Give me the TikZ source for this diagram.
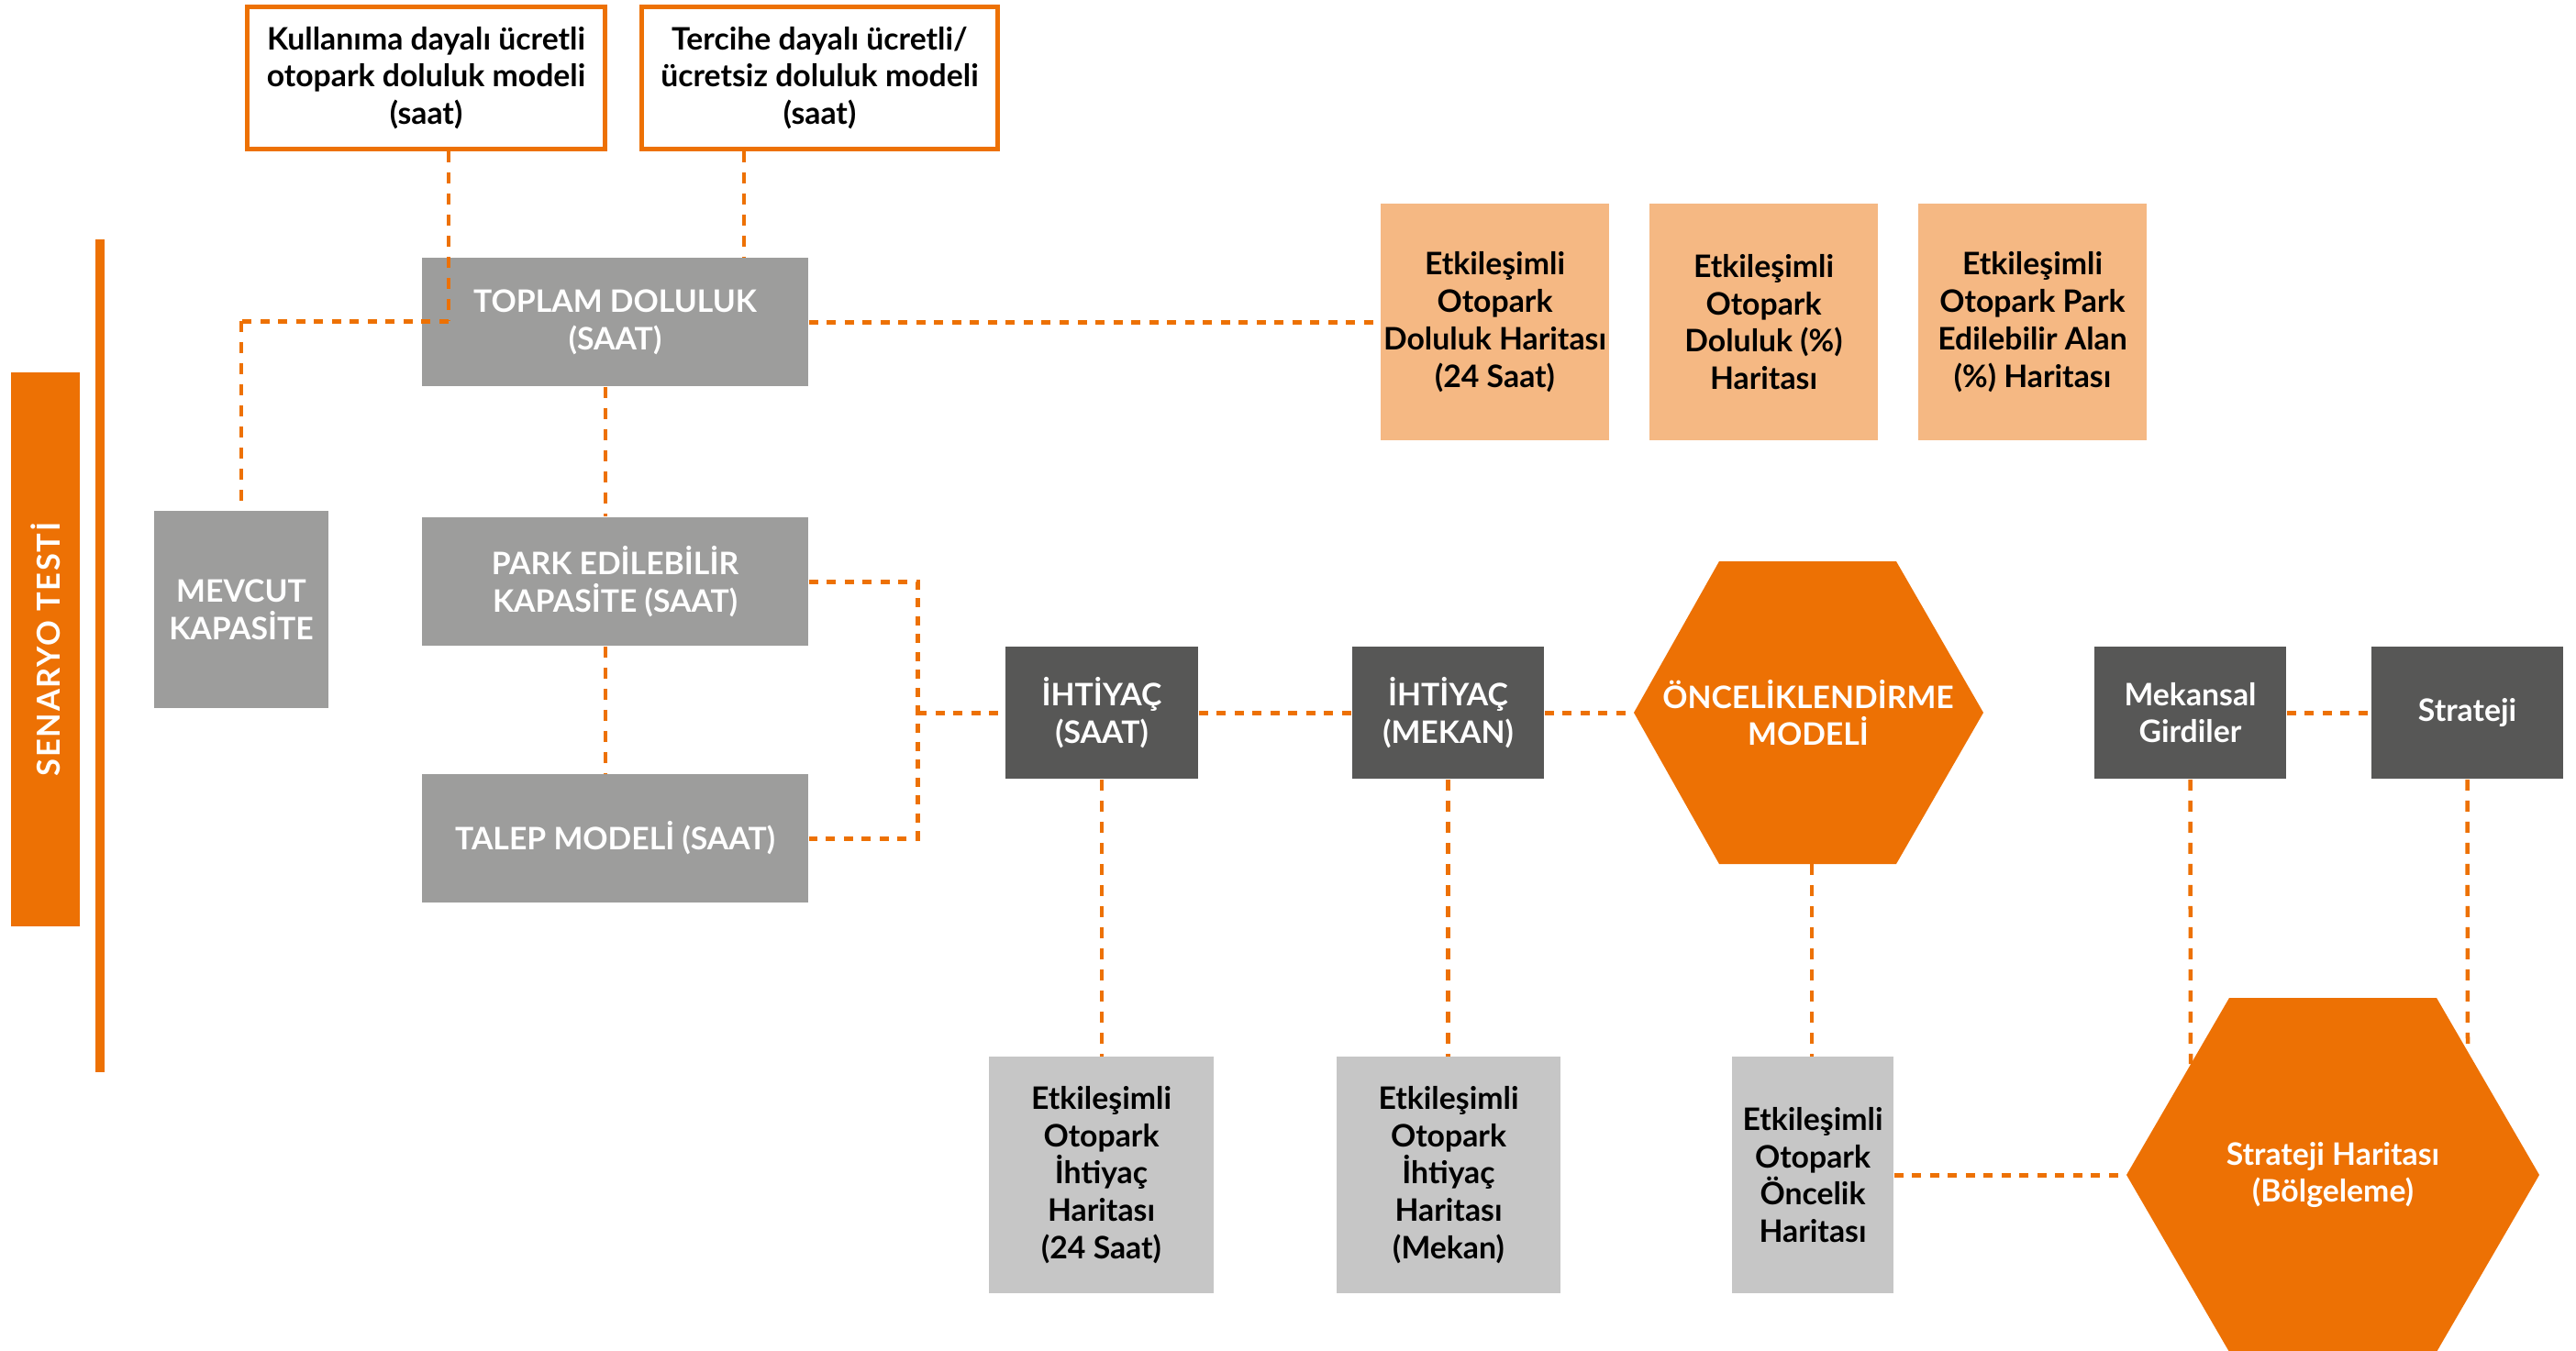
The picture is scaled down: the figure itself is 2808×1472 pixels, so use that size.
\documentclass[tikz,border=0pt]{standalone}
\usepackage{fontspec}
\setmainfont{Lato}
\newfontfamily\spacedfont[LetterSpace=5]{Lato}
\definecolor{orng}{RGB}{237,113,4}
\definecolor{lorng}{RGB}{245,184,131}
\definecolor{mgray}{RGB}{157,157,156}
\definecolor{dgray}{RGB}{87,87,86}
\definecolor{lgray}{RGB}{198,198,198}
\begin{document}
\begin{tikzpicture}[x=0.01cm,y=-0.01cm,
  txt/.style={font=\fontsize{9.6}{11.6}\selectfont\bfseries, align=center, inner sep=0pt},
  outbox/.style={txt, draw=orng, line width=0.05cm, fill=white, text=black},
  gbox/.style={txt, fill=mgray, text=white},
  dbox/.style={txt, fill=dgray, text=white},
  lobox/.style={txt, fill=lorng, text=black},
  lgbox/.style={txt, fill=lgray, text=black},
  hd/.style={draw=orng, line width=0.05cm, dash pattern=on 0.10cm off 0.095cm},
  vd/.style={draw=orng, line width=0.045cm, dash pattern=on 0.12cm off 0.11cm}]
\useasboundingbox (0,0) rectangle (2808,1472);

% left bar and line
\fill[orng] (12,406) rectangle (87,1010);
\node[rotate=90, text=white, inner sep=0pt, font=\spacedfont\fontsize{9.8}{11}\selectfont\bfseries] (senaryo) at (50,708) {SENARYO TESTİ};
\fill[orng] (104,261) rectangle (114,1169);

% top white boxes
\node[outbox, minimum width=3.89cm, minimum height=1.55cm] (k1) at (464.5,85) {Kullanıma dayalı ücretli\\otopark doluluk modeli\\(saat)};
\node[outbox, minimum width=3.88cm, minimum height=1.55cm] (k2) at (893.5,85) {Tercihe dayalı ücretli/\\ücretsiz doluluk modeli\\(saat)};

% gray boxes
\node[gbox, minimum width=4.21cm, minimum height=1.40cm] (toplam) at (670.5,351) {TOPLAM DOLULUK\\(SAAT)};
\node[gbox, minimum width=1.90cm, minimum height=2.15cm] (mevcut) at (263,664.5) {MEVCUT\\KAPASİTE};
\node[gbox, minimum width=4.21cm, minimum height=1.40cm] (park) at (670.5,634) {PARK EDİLEBİLİR\\KAPASİTE (SAAT)};
\node[gbox, minimum width=4.21cm, minimum height=1.40cm] (talep) at (670.5,914) {TALEP MODELİ (SAAT)};

% dark boxes
\node[dbox, minimum width=2.10cm, minimum height=1.44cm] (ihs) at (1201,777) {İHTİYAÇ\\(SAAT)};
\node[dbox, minimum width=2.09cm, minimum height=1.44cm] (ihm) at (1578.5,777) {İHTİYAÇ\\(MEKAN)};
\node[dbox, minimum width=2.09cm, minimum height=1.44cm] (mek) at (2387.5,777) {Mekansal\\Girdiler};
\node[dbox, minimum width=2.09cm, minimum height=1.44cm] (str) at (2689.5,777) {Strateji};

% light orange boxes
\node[lobox, minimum width=2.49cm, minimum height=2.58cm] (lo1) at (1629.5,351) {Etkileşimli\\Otopark\\Doluluk Haritası\\(24 Saat)};
\node[lobox, minimum width=2.49cm, minimum height=2.58cm] (lo2) at (1922.5,351) {Etkileşimli\\Otopark\\Doluluk (\%)\\Haritası};
\node[lobox, minimum width=2.49cm, minimum height=2.58cm] (lo3) at (2215.5,351) {Etkileşimli\\Otopark Park\\Edilebilir Alan\\(\%) Haritası};

% light gray boxes
\node[lgbox, minimum width=2.45cm, minimum height=2.57cm] (bg1) at (1200.5,1281) {Etkileşimli\\Otopark\\İhtiyaç\\Haritası\\(24 Saat)};
\node[lgbox, minimum width=2.44cm, minimum height=2.57cm] (bg2) at (1579,1281) {Etkileşimli\\Otopark\\İhtiyaç\\Haritası\\(Mekan)};
\node[lgbox, minimum width=1.76cm, minimum height=2.57cm] (bg3) at (1976,1281) {Etkileşimli\\Otopark\\Öncelik\\Haritası};

% hexagon 1
\coordinate (h1a) at (1874,612);
\coordinate (h1b) at (2067,612);
\coordinate (h1e) at (2162,777);
\coordinate (h1c) at (2067,942);
\coordinate (h1d) at (1874,942);
\coordinate (h1w) at (1781,777);
\coordinate (h1s) at (1975,942);
\fill[orng] (h1a) -- (h1b) -- (h1e) -- (h1c) -- (h1d) -- (h1w) -- cycle;
\node[txt, text=white] (onc) at (1971,777) {ÖNCELİKLENDİRME\\MODELİ};

% hexagon 2
\coordinate (h2a) at (2430,1088);
\coordinate (h2b) at (2656,1088);
\coordinate (h2e) at (2768,1281);
\coordinate (h2c) at (2656,1474);
\coordinate (h2d) at (2430,1474);
\coordinate (h2w) at (2318,1281);
\coordinate (h2l) at (2388,1160);
\coordinate (h2r) at (2690,1147);
\fill[orng] (h2a) -- (h2b) -- (h2e) -- (h2c) -- (h2d) -- (h2w) -- cycle;
\node[txt, text=white] (sh) at (2543,1281) {Strateji Haritası\\(Bölgeleme)};

% connectors
\coordinate (j1) at (489,350);
\coordinate (j2) at (811,165);
\coordinate (tv) at (660,0);
\coordinate (br) at (1000,777);
\draw[vd] (k1.south -| j1) -- (j1);
\draw[hd] (j1) -- (j1 -| mevcut.north);
\draw[vd] (j1 -| mevcut.north) -- (mevcut.north);
\draw[vd] (j2) -- (j2 |- toplam.north);
\draw[hd] (toplam.east) -- (lo1.west);
\draw[vd] (toplam.south -| tv) -- (park.north -| tv);
\draw[vd] (park.south -| tv) -- (talep.north -| tv);
\draw[hd] (park.east) -| (br |- talep.east) -- (talep.east);
\draw[hd] (br) -- (ihs.west);
\draw[hd] (ihs.east) -- (ihm.west);
\draw[hd] (ihm.east) -- (h1w);
\draw[hd] (mek.east) -- (str.west);
\draw[vd] (ihs.south) -- (ihs.south |- bg1.north);
\draw[vd] (ihm.south) -- (ihm.south |- bg2.north);
\draw[vd] (h1s) -- (h1s |- bg3.north);
\draw[hd] (bg3.east) -- (h2w);
\draw[vd] (mek.south) -- (h2l);
\draw[vd] (str.south) -- (h2r);
\end{tikzpicture}
\end{document}
